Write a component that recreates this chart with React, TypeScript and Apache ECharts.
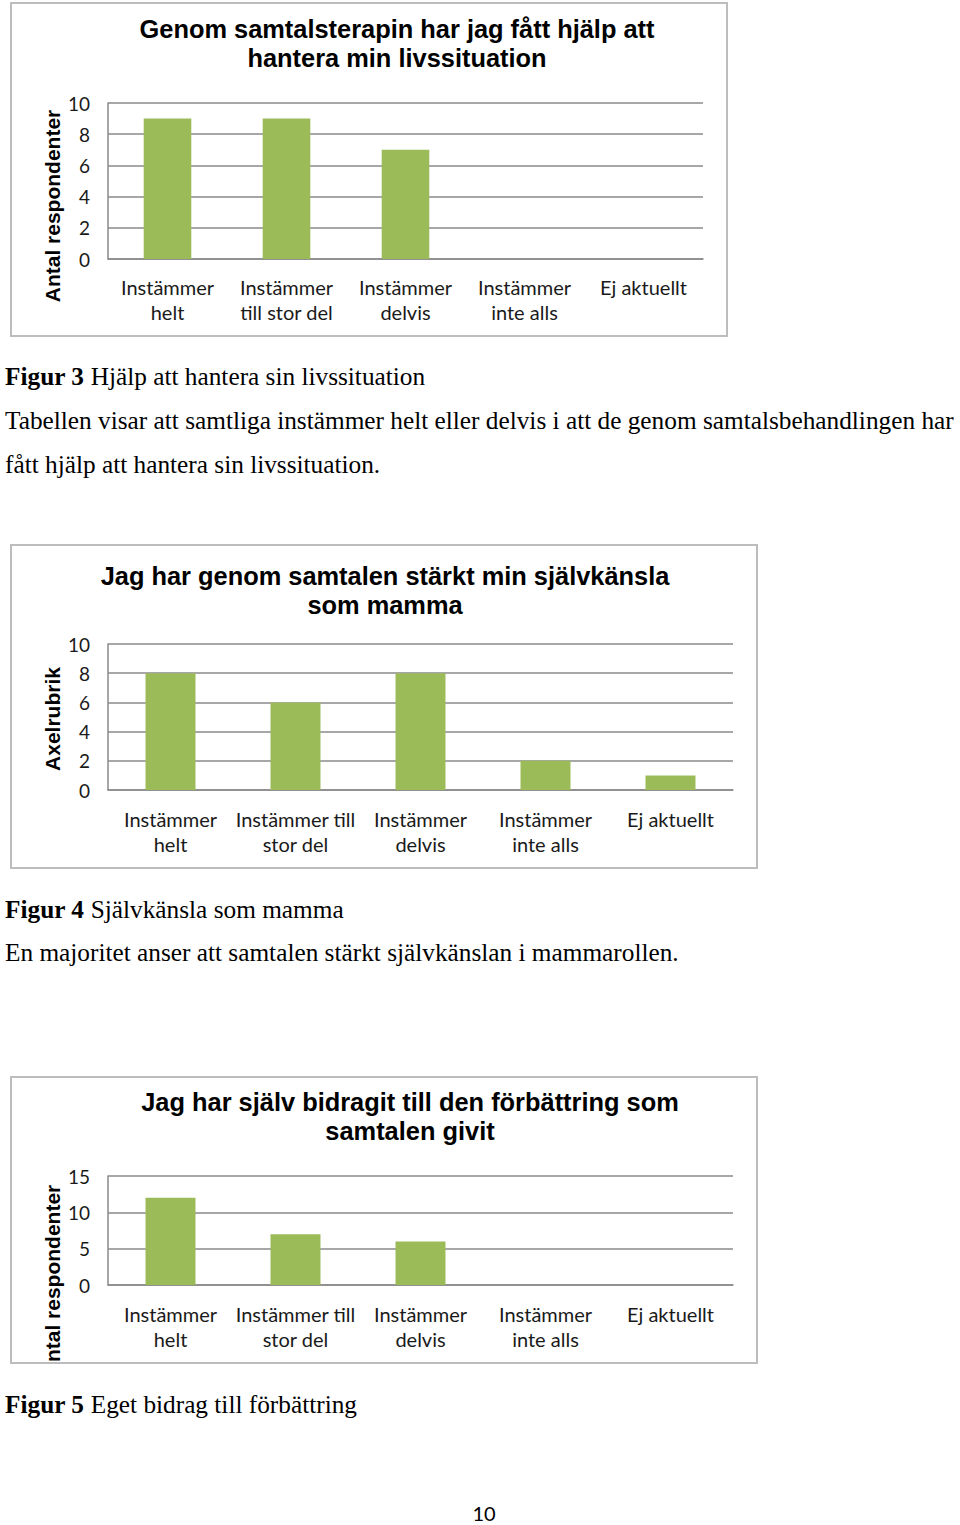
import React, { useEffect, useRef } from "react";
import * as echarts from "echarts";

const categories1 = ["Instämmer\nhelt", "Instämmer\ntill stor del", "Instämmer\ndelvis", "Instämmer\ninte alls", "Ej aktuellt"];
const categories23 = ["Instämmer\nhelt", "Instämmer till\nstor del", "Instämmer\ndelvis", "Instämmer\ninte alls", "Ej aktuellt"];
const values1 = [9, 9, 7, 0, 0];
const values2 = [8, 6, 8, 2, 1];
const values3 = [12, 7, 6, 0, 0];
const yMax = [10, 10, 15];
const yInterval = [2, 2, 5];
const titles = [
  "Genom samtalsterapin har jag fått hjälp att\nhantera min livssituation",
  "Jag har genom samtalen stärkt min självkänsla\nsom mamma",
  "Jag har själv bidragit till den förbättring som\nsamtalen givit",
];
const yNames = ["Antal respondenter", "Axelrubrik", "Antal respondenter"];
const captions = [
  ["Figur 3", " Hjälp att hantera sin livssituation"],
  ["Figur 4", " Självkänsla som mamma"],
  ["Figur 5", " Eget bidrag till förbättring"],
];
const bodyLines = [
  "Tabellen visar att samtliga instämmer helt eller delvis i att de genom samtalsbehandlingen har",
  "fått hjälp att hantera sin livssituation.",
  "En majoritet anser att samtalen stärkt självkänslan i mammarollen.",
];
const pageNumber = "10";

const GREEN = "#9bbb59";
const GRID_COLOR = "#8a8a8a";
const SANS = "Lato, 'Open Sans', sans-serif";
const BOLD = "'Liberation Sans', Arial, sans-serif";
const SERIF = "'Liberation Serif', 'Times New Roman', serif";
const SERIF_SIZE = 25.3;

export default function App() {
  const ref = useRef<HTMLDivElement>(null);
  useEffect(() => {
    document.body.style.margin = "0";
    const chart = echarts.init(ref.current!, undefined, { renderer: "svg" });

    const grids = [
      { left: 108, top: 103, width: 595, height: 156 },
      { left: 108, top: 644, width: 625, height: 146 },
      { left: 108, top: 1176, width: 625, height: 109 },
    ];
    const cats = [categories1, categories23, categories23];
    const vals = [values1, values2, values3];
    const labelMargins = [15, 16, 16];

    const xAxis = grids.map((_, i) => ({
      type: "category",
      gridIndex: i,
      data: cats[i],
      axisLine: { show: true, lineStyle: { color: GRID_COLOR, width: 1.5 } },
      axisTick: { show: false },
      axisLabel: {
        interval: 0,
        margin: labelMargins[i],
        fontFamily: SANS,
        fontSize: 20,
        lineHeight: 25,
        color: "#1a1a1a",
      },
    }));
    const yAxis = grids.map((_, i) => ({
      type: "value",
      gridIndex: i,
      min: 0,
      max: yMax[i],
      interval: yInterval[i],
      axisLine: { show: true, lineStyle: { color: GRID_COLOR, width: 1.5 } },
      axisTick: { show: false },
      axisLabel: { margin: 18, fontFamily: SANS, fontSize: 19, color: "#1a1a1a" },
      splitLine: { show: true, lineStyle: { color: GRID_COLOR, width: 1.5 } },
    }));
    const series = grids.map((_, i) => ({
      type: "bar",
      xAxisIndex: i,
      yAxisIndex: i,
      data: vals[i],
      barCategoryGap: "60%",
      itemStyle: { color: GREEN },
    }));

    const borders = [
      { x: 11, y: 3, w: 716, h: 333 },
      { x: 11, y: 545, w: 746, h: 323 },
      { x: 11, y: 1077, w: 746, h: 286 },
    ];
    const titlePos = [
      { x: 397, y: 14 },
      { x: 385, y: 561 },
      { x: 410, y: 1087 },
    ];
    const yNamePos = [
      { x: 52, y: 206 },
      { x: 52, y: 719 },
      { x: 52, y: 1281 },
    ];
    const captionY = [376, 909, 1404];
    const bodyY = [420, 464, 952];

    const graphic: any[] = [];
    titles.forEach((t, i) => {
      graphic.push({
        type: "text",
        x: titlePos[i].x,
        y: titlePos[i].y,
        z: 10,
        style: {
          text: t,
          fontFamily: BOLD,
          fontWeight: "bold",
          fontSize: 25.4,
          lineHeight: 29,
          fill: "#000",
          textAlign: "center",
          textVerticalAlign: "top",
        },
      });
    });
    yNames.forEach((t, i) => {
      graphic.push({
        type: "text",
        x: yNamePos[i].x,
        y: yNamePos[i].y,
        rotation: Math.PI / 2,
        z: 10,
        style: {
          text: t,
          fontFamily: BOLD,
          fontWeight: "bold",
          fontSize: 21,
          fill: "#000",
          textAlign: "center",
          textVerticalAlign: "middle",
        },
      });
    });
    // white cover for clipped axis title of chart 3
    graphic.push({
      type: "rect",
      z: 20,
      shape: { x: 30, y: 1364, width: 50, height: 30 },
      style: { fill: "#fff" },
    });
    borders.forEach((b) => {
      graphic.push({
        type: "rect",
        z: 30,
        shape: { x: b.x, y: b.y, width: b.w, height: b.h },
        style: { fill: "none", stroke: "#bdbdbd", lineWidth: 2 },
      });
    });
    captions.forEach((c, i) => {
      graphic.push({
        type: "text",
        x: 5,
        y: captionY[i],
        z: 10,
        style: {
          text: "{b|" + c[0] + "}{n|" + c[1] + "}",
          rich: {
            b: { fontFamily: SERIF, fontSize: SERIF_SIZE, fontWeight: "bold", fill: "#000" },
            n: { fontFamily: SERIF, fontSize: SERIF_SIZE, fill: "#000" },
          },
          fontFamily: SERIF,
          fontSize: SERIF_SIZE,
          fill: "#000",
          textAlign: "left",
          textVerticalAlign: "middle",
        },
      });
    });
    bodyLines.forEach((t, i) => {
      graphic.push({
        type: "text",
        x: 5,
        y: bodyY[i],
        z: 10,
        style: {
          text: t,
          fontFamily: SERIF,
          fontSize: SERIF_SIZE,
          fill: "#000",
          textAlign: "left",
          textVerticalAlign: "middle",
        },
      });
    });
    graphic.push({
      type: "text",
      x: 484,
      y: 1513,
      z: 10,
      style: {
        text: pageNumber,
        fontFamily: SANS,
        fontSize: 20,
        fill: "#000",
        textAlign: "center",
        textVerticalAlign: "middle",
      },
    });

    chart.setOption({
      animation: false,
      backgroundColor: "#fff",
      grid: grids.map((g) => ({ ...g, containLabel: false })),
      xAxis,
      yAxis,
      series,
      graphic,
    } as any);
    return () => chart.dispose();
  }, []);
  return (
    <div
      ref={ref}
      style={{ position: "absolute", left: 0, top: 0, width: 960, height: 1525 }}
    />
  );
}
